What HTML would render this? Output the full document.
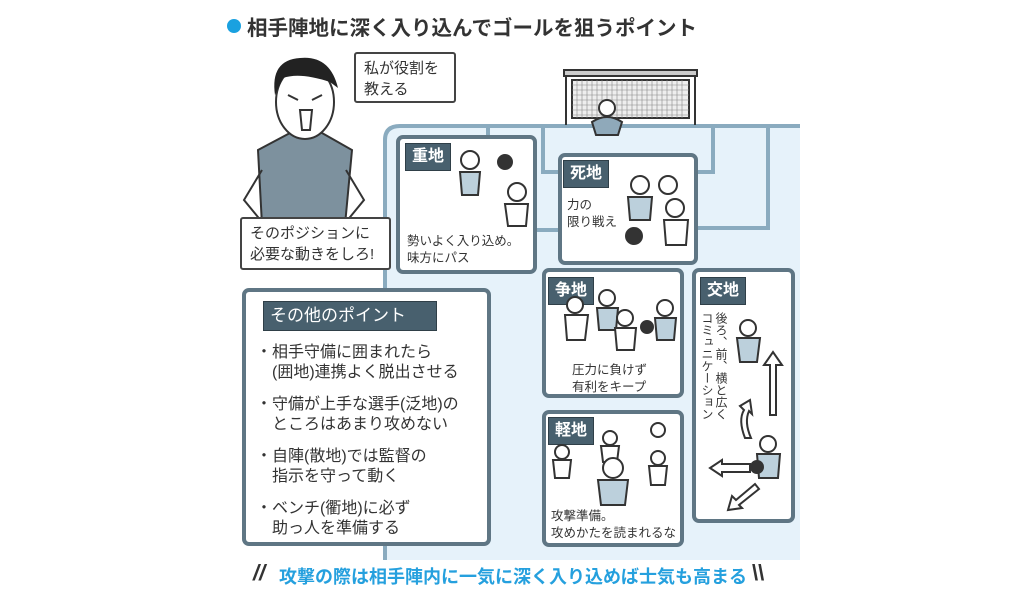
<!DOCTYPE html>
<html><head><meta charset="utf-8"><style>
body{margin:0;width:1024px;height:592px;background:#fff;position:relative;overflow:hidden;font-family:"Liberation Sans","Noto Sans CJK JP",sans-serif;color:#333}
.a{position:absolute}
.box{position:absolute;background:#fff;border:4px solid #5f7684;border-radius:7px;box-sizing:border-box}
.lab{position:absolute;background:#48606e;color:#fff;font-size:16px;font-weight:bold;line-height:26px;padding:0 6px;border:1px solid #2f3f48}
.t{position:absolute;font-size:12.5px;line-height:17px;color:#333}
.bub{position:absolute;background:#fff;border:2px solid #444;border-radius:3px;box-sizing:border-box;font-size:15px;line-height:21px;padding:4px 8px}
</style></head><body>
<div class="a" style="left:227px;top:19px;width:14px;height:14px;border-radius:50%;background:#1aa1e0"></div>
<div class="a" style="left:247px;top:11px;font-size:20.5px;font-weight:bold;color:#333">相手陣地に深く入り込んでゴールを狙うポイント</div>

<svg class="a" style="left:0;top:0" width="1024" height="592">
<path d="M385 560 L385 140 Q385 126 400 126 L800 126 L800 560 Z" fill="#e6f2fa"/>
<g fill="none" stroke="#8aabbf" stroke-width="4">
<path d="M385 560 L385 140 Q385 126 400 126 L800 126"/>
<path d="M543 126 L543 172 L713 172 L713 126"/>
<path d="M768 126 L768 228 L698 228"/>
<path d="M488 126 L488 136"/>
<path d="M536 230 L558 230"/>
</g>
<g stroke="#333" stroke-width="2" fill="none">
<rect x="564" y="70" width="133" height="6" fill="#ccc"/>
<path d="M566 76 L566 125 M695 76 L695 125"/>
<path d="M572 80 L689 80 L689 118 L572 118 Z" fill="#eee"/>
</g>
<g stroke="#888" stroke-width="0.6">
<path d="M577 80V118M582 80V118M587 80V118M592 80V118M597 80V118M602 80V118M607 80V118M612 80V118M617 80V118M622 80V118M627 80V118M632 80V118M637 80V118M642 80V118M647 80V118M652 80V118M657 80V118M662 80V118M667 80V118M672 80V118M677 80V118M682 80V118"/>
<path d="M572 85H689M572 90H689M572 95H689M572 100H689M572 105H689M572 110H689M572 115H689"/>
</g>
<circle cx="607" cy="108" r="8" fill="#fff" stroke="#333" stroke-width="2"/>
<path d="M592 122 Q607 112 622 122 L618 135 L596 135 Z" fill="#8fa9ba" stroke="#333" stroke-width="2"/>
<path d="M258 150 L290 133 L322 133 L352 150 L345 225 L262 225 Z" fill="#7d919e" stroke="#333" stroke-width="2"/>
<path d="M262 170 L244 200 L262 222 M346 170 L364 200 L346 222" fill="none" stroke="#333" stroke-width="2"/>
<ellipse cx="305" cy="102" rx="29" ry="37" fill="#fff" stroke="#333" stroke-width="2"/>
<path d="M275 95 Q270 60 300 58 Q330 55 338 88 L330 82 Q300 72 283 78 Z" fill="#222"/>
<path d="M300 110 L312 110 L310 130 L302 130 Z" fill="#fff" stroke="#333" stroke-width="2"/>
<path d="M288 95 L298 100 M322 95 L312 100" stroke="#333" stroke-width="2"/>
</svg>

<div class="bub" style="left:354px;top:52px;width:102px;height:51px">私が役割を<br>教える</div>
<div class="bub" style="left:240px;top:217px;width:151px;height:53px;font-size:15px">そのポジションに<br>必要な動きをしろ!</div>

<div class="box" style="left:396px;top:135px;width:141px;height:139px"></div>
<div class="lab" style="left:405px;top:143px">重地</div>
<div class="t" style="left:407px;top:233px">勢いよく入り込め。<br>味方にパス</div>

<div class="box" style="left:558px;top:153px;width:140px;height:112px"></div>
<div class="lab" style="left:563px;top:160px">死地</div>
<div class="t" style="left:567px;top:197px">力の<br>限り戦え</div>

<div class="box" style="left:542px;top:268px;width:142px;height:130px"></div>
<div class="lab" style="left:548px;top:277px">争地</div>
<div class="t" style="left:572px;top:362px">圧力に負けず<br>有利をキープ</div>

<div class="box" style="left:542px;top:410px;width:142px;height:137px"></div>
<div class="lab" style="left:548px;top:417px">軽地</div>
<div class="t" style="left:551px;top:508px">攻撃準備。<br>攻めかたを読まれるな</div>

<div class="box" style="left:692px;top:268px;width:103px;height:255px"></div>
<div class="lab" style="left:700px;top:277px">交地</div>
<div class="t" style="left:700px;top:312px;writing-mode:vertical-rl;line-height:14px;font-size:12px">後ろ、前、横と広く<br>コミュニケーション</div>

<svg class="a" style="left:0;top:0" width="1024" height="592">
<g fill="#fff" stroke="#333" stroke-width="2">
<!-- players -->
<circle cx="470" cy="160" r="9"/><path d="M460 172 L480 172 L478 195 L462 195 Z" fill="#bcd0dc"/>
<circle cx="505" cy="162" r="7" fill="#333"/>
<circle cx="517" cy="192" r="9"/><path d="M505 204 L528 204 L526 226 L508 226 Z"/>
<circle cx="640" cy="185" r="9"/><path d="M628 197 L652 197 L650 220 L630 220 Z" fill="#bcd0dc"/>
<circle cx="668" cy="185" r="9"/><circle cx="675" cy="208" r="9"/><path d="M664 220 L688 220 L686 245 L666 245 Z"/>
<circle cx="634" cy="236" r="8" fill="#333"/>
<circle cx="575" cy="305" r="8"/><path d="M565 315 L588 315 L585 340 L567 340 Z"/>
<circle cx="607" cy="298" r="8"/><path d="M597 308 L618 308 L616 330 L599 330 Z" fill="#bcd0dc"/>
<circle cx="625" cy="318" r="8"/><path d="M615 328 L636 328 L634 350 L617 350 Z"/>
<circle cx="665" cy="308" r="8"/><path d="M655 318 L676 318 L674 340 L657 340 Z" fill="#bcd0dc"/>
<circle cx="647" cy="327" r="6" fill="#333"/>
<circle cx="748" cy="328" r="8"/><path d="M737 338 L760 338 L757 362 L740 362 Z" fill="#bcd0dc"/>
<path d="M770 415 L770 365 L764 365 L773 352 L782 365 L776 365 L776 415 Z"/>
<path d="M745 438 Q738 420 744 410 L740 406 L750 400 L752 414 L749 411 Q744 422 751 438 Z"/>
<circle cx="768" cy="444" r="8"/><path d="M757 454 L780 454 L778 478 L759 478 Z" fill="#bcd0dc"/>
<path d="M750 464 L722 464 L722 460 L710 468 L722 476 L722 472 L750 472 Z"/>
<path d="M755 484 L736 500 L732 496 L728 510 L742 508 L739 505 L759 489 Z"/>
<circle cx="757" cy="467" r="6" fill="#333"/>
<circle cx="562" cy="452" r="7"/><path d="M553 460 L571 460 L569 478 L555 478 Z"/>
<circle cx="610" cy="438" r="7"/><path d="M601 446 L619 446 L617 462 L603 462 Z"/>
<circle cx="658" cy="430" r="7"/><circle cx="658" cy="458" r="7"/><path d="M649 466 L667 466 L665 485 L651 485 Z"/>
<circle cx="613" cy="468" r="10"/><path d="M598 480 L628 480 L625 505 L601 505 Z" fill="#bcd0dc"/>
</g>
</svg>

<div class="box" style="left:242px;top:288px;width:249px;height:258px"></div>
<div class="lab" style="left:263px;top:301px;width:160px;font-size:17px;line-height:28px;font-weight:normal">その他のポイント</div>
<div class="t" style="left:256px;top:343px;font-size:16px;line-height:20px">
・相手守備に囲まれたら<br>　(囲地)連携よく脱出させる<br><div style="height:12px"></div>
・守備が上手な選手(泛地)の<br>　ところはあまり攻めない<br><div style="height:12px"></div>
・自陣(散地)では監督の<br>　指示を守って動く<br><div style="height:12px"></div>
・ベンチ(衢地)に必ず<br>　助っ人を準備する</div>

<div class="a" style="left:253px;top:560px;font-size:22px;font-weight:bold;color:#333;font-style:italic">//</div>
<div class="a" style="left:279px;top:563px;font-size:18px;font-weight:bold;color:#25a0de">攻撃の際は相手陣内に一気に深く入り込めば士気も高まる</div>
<div class="a" style="left:752px;top:560px;font-size:22px;font-weight:bold;color:#333">\\</div>
</body></html>
